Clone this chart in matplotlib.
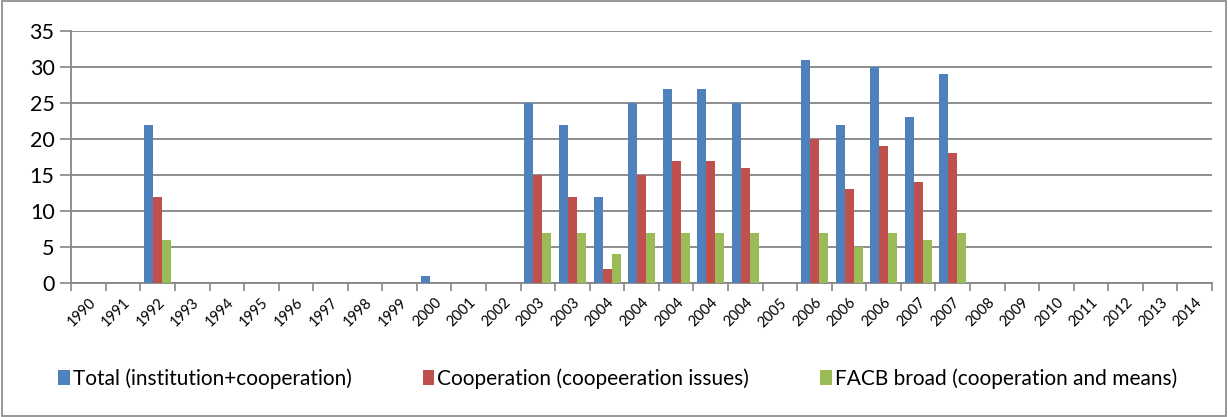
import matplotlib.pyplot as plt
import numpy as np
from matplotlib.patches import Rectangle

plt.rcParams['font.family'] = ['Lato', 'DejaVu Sans']

years = ['1990', '1991', '1992', '1993', '1994', '1995', '1996', '1997', '1998',
         '1999', '2000', '2001', '2002', '2003', '2003', '2004', '2004', '2004',
         '2004', '2004', '2005', '2006', '2006', '2006', '2007', '2007', '2008',
         '2009', '2010', '2011', '2012', '2013', '2014']

total = [0, 0, 22, 0, 0, 0, 0, 0, 0, 0, 1, 0, 0, 25, 22, 12, 25, 27, 27, 25,
         0, 31, 22, 30, 23, 29, 0, 0, 0, 0, 0, 0, 0]
cooperation = [0, 0, 12, 0, 0, 0, 0, 0, 0, 0, 0, 0, 0, 15, 12, 2, 15, 17, 17, 16,
               0, 20, 13, 19, 14, 18, 0, 0, 0, 0, 0, 0, 0]
facb = [0, 0, 6, 0, 0, 0, 0, 0, 0, 0, 0, 0, 0, 7, 7, 4, 7, 7, 7, 7,
        0, 7, 5, 7, 6, 7, 0, 0, 0, 0, 0, 0, 0]

labels = ['Total (institution+cooperation)', 'Cooperation (coopeeration issues)',
          'FACB broad (cooperation and means)']
colors = ['#4F81BD', '#C0504D', '#9BBB59']

fig = plt.figure(figsize=(12.28, 4.17), dpi=100)
ax = fig.add_axes([0.058, 0.321, 0.929, 0.605])

x = np.arange(len(years))
w = 0.26
for i, (vals, lab, col) in enumerate(zip([total, cooperation, facb], labels, colors)):
    ax.bar(x + (i - 1) * w, vals, width=w, color=col, label=lab, zorder=3)

ax.set_xlim(-0.5, len(years) - 0.5)
ax.set_ylim(0, 35)
ax.set_yticks(range(0, 36, 5))
ax.set_xticks(x)
ax.set_xticklabels(years, rotation=45, ha='right', rotation_mode='anchor', fontsize=10.5)
ax.set_xticks(np.arange(-0.5, len(years)), minor=True)
ax.tick_params(axis='x', which='major', length=0, pad=9)
ax.tick_params(axis='x', which='minor', length=6, color='#868686', width=1.2)
ax.tick_params(axis='y', length=8, color='#868686', width=1.2, labelsize=15.5, pad=4)

ax.grid(axis='y', color='#868686', linewidth=1.3, zorder=0)
for s in ['top', 'right']:
    ax.spines[s].set_visible(False)
for s in ['left', 'bottom']:
    ax.spines[s].set_color('#868686')
    ax.spines[s].set_linewidth(1.3)

fig.legend(loc='center', bbox_to_anchor=(0.503, 0.093), ncol=3, frameon=False,
           fontsize=15, handlelength=0.55, handleheight=0.7, handletextpad=0.15,
           columnspacing=3.4)

fig.patches.append(Rectangle((0.002, 0.003), 0.996, 0.994, transform=fig.transFigure,
                             fill=False, edgecolor='#868686', linewidth=1.2))

fig.savefig('out.png', dpi=100)
